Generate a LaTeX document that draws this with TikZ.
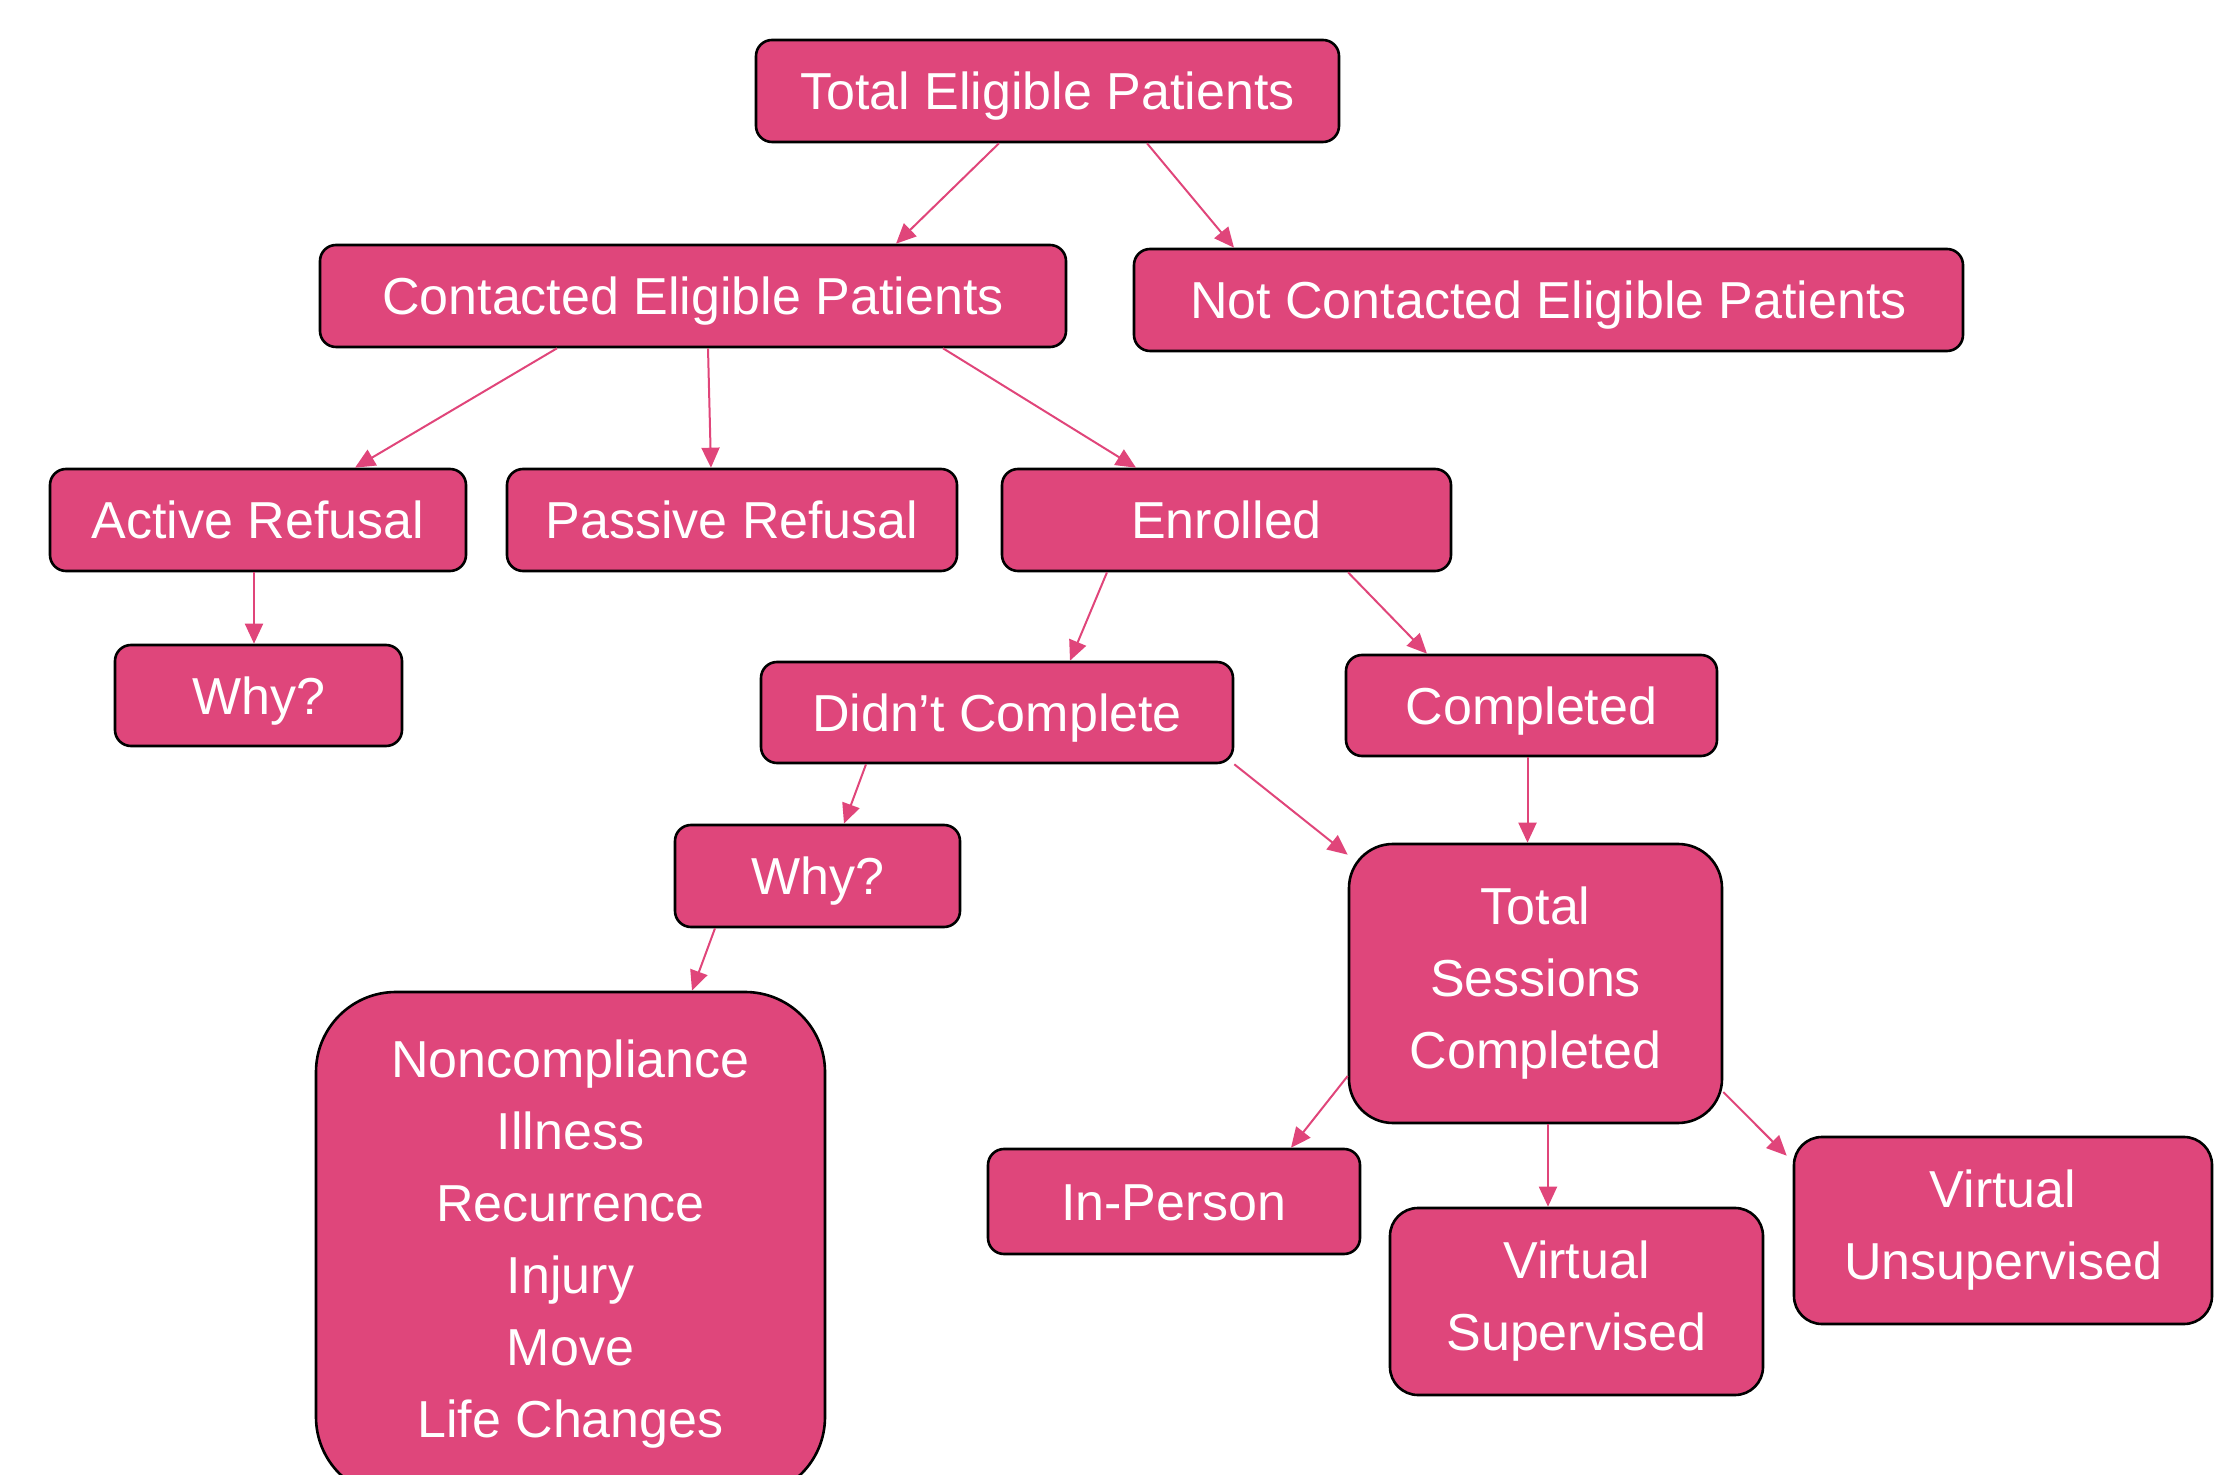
\documentclass[tikz,border=0pt]{standalone}
\usepackage{fontspec}
\setmainfont{Liberation Sans}
\usetikzlibrary{arrows.meta}
\definecolor{pinkfill}{HTML}{DF467B}
\definecolor{pinkline}{HTML}{E0457A}
\begin{document}
\begin{tikzpicture}[x=0.5pt,y=-0.5pt,
  box/.style={draw=black,line width=1.3pt,fill=pinkfill,text=white,rounded corners=8pt,
    inner sep=0pt,align=center,font=\fontsize{26}{36}\selectfont},
  onebox/.style={box,text height=18.6pt,text depth=0pt},
  conn/.style={draw=pinkline,line width=1pt,-{Triangle[length=10pt,width=9pt]}}]
\useasboundingbox (0,0) rectangle (2229,1475);
\node[onebox,minimum width=291.5pt,minimum height=51pt] (total) at (1047.5,91) {Total Eligible Patients};
\node[onebox,minimum width=373pt,minimum height=51pt] (contacted) at (693,296) {Contacted Eligible Patients};
\node[onebox,minimum width=414.5pt,minimum height=51pt] (notcont) at (1548.5,300) {Not Contacted Eligible Patients};
\node[onebox,minimum width=208pt,minimum height=51pt] (active) at (258,520) {Active Refusal};
\node[onebox,minimum width=225pt,minimum height=51pt] (passive) at (732,520) {Passive Refusal};
\node[onebox,minimum width=224.5pt,minimum height=51pt] (enrolled) at (1226.5,520) {Enrolled};
\node[onebox,minimum width=143.5pt,minimum height=50.5pt] (whyA) at (258.5,695.5) {Why?};
\node[onebox,minimum width=236pt,minimum height=50.5pt] (didnt) at (997,712.5) {Didn’t Complete};
\node[onebox,minimum width=185.5pt,minimum height=50.5pt] (completed) at (1531.5,705.5) {Completed};
\node[onebox,minimum width=142.5pt,minimum height=51pt] (whyB) at (817.5,876) {Why?};
\node[box,rounded corners=22pt,minimum width=186.5pt,minimum height=139.5pt] (sessions) at (1535.5,983.5) {Total\\Sessions\\Completed};
\node[box,rounded corners=40pt,minimum width=254.5pt,minimum height=252.5pt] (reasons) at (570.5,1244.5) {Noncompliance\\Illness\\Recurrence\\Injury\\Move\\Life Changes};
\node[onebox,minimum width=186pt,minimum height=52.5pt] (inperson) at (1174,1201.5) {In-Person};
\node[box,rounded corners=14pt,minimum width=186.5pt,minimum height=93.5pt] (vs) at (1576.5,1301.5) {Virtual\\Supervised};
\node[box,rounded corners=14pt,minimum width=209pt,minimum height=93.5pt] (vu) at (2003,1230.5) {Virtual\\Unsupervised};

\draw[conn] ([xshift=-24.25pt]total.south) -- ([xshift=101.5pt]contacted.north);
\draw[conn] ([xshift=49.75pt]total.south) -- ([xshift=-157.25pt]notcont.north);
\draw[conn] ([xshift=-68pt]contacted.south) -- ([xshift=48.5pt]active.north);
\draw[conn] ([xshift=7.5pt]contacted.south) -- ([xshift=-10.5pt]passive.north);
\draw[conn] ([xshift=125pt]contacted.south) -- ([xshift=-45.25pt]enrolled.north);
\draw[conn] ([xshift=-2pt]active.south) -- ([xshift=-2pt]active.south |- whyA.north);
\draw[conn] ([xshift=-59.75pt]enrolled.south) -- ([xshift=36.5pt]didnt.north);
\draw[conn] ([xshift=60.75pt]enrolled.south) -- ([xshift=-52.25pt]completed.north);
\draw[conn] ([xshift=-65.5pt]didnt.south) -- ([xshift=13.25pt]whyB.north);
\draw[conn] (didnt.south east) -- ([yshift=-6pt]sessions.north west);
\draw[conn] ([xshift=-2pt]completed.south) -- ([xshift=-2pt]completed.south |- sessions.north);
\draw[conn] ([xshift=-51.25pt]whyB.south) -- ([xshift=60.75pt]reasons.north);
\draw[conn] ([yshift=-46.25pt]sessions.west) -- ([xshift=58.5pt]inperson.north);
\draw[conn] ([xshift=6.25pt]sessions.south) -- ([xshift=6.25pt]sessions.south |- vs.north);
\draw[conn] ([yshift=-54.25pt]sessions.east) -- ([xshift=-3pt,yshift=-10pt]vu.north west);
\end{tikzpicture}
\end{document}
